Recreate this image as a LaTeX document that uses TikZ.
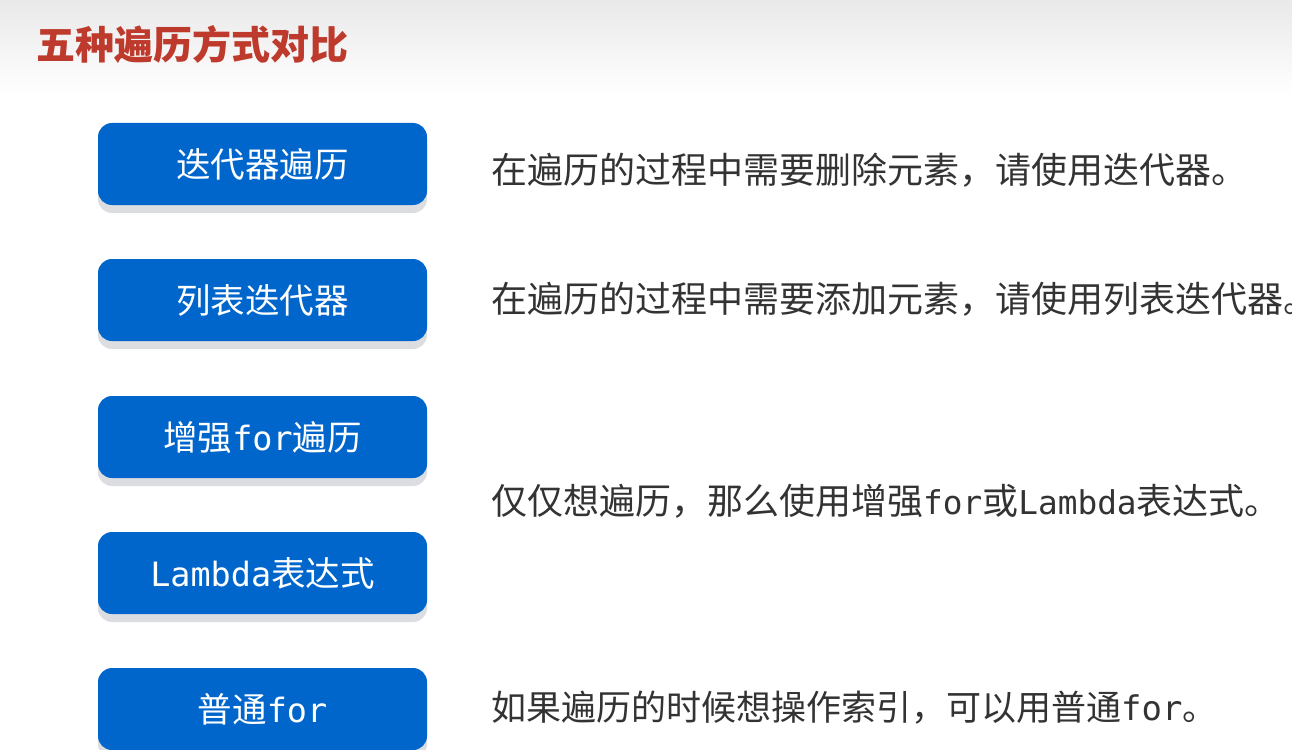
\documentclass[tikz,border=0pt]{standalone}
\usepackage{fontspec}
\setmainfont{Noto Sans CJK SC}
\newfontfamily\cjkfont{Noto Sans CJK SC}
\newfontfamily\monofnt[Scale=0.91]{DejaVu Sans Mono}
\newfontfamily\monobtn[Scale=0.97]{DejaVu Sans Mono}
\newcommand\mn[1]{{\monofnt #1}}
\newcommand\mb[1]{{\monobtn #1}}
\usetikzlibrary{shadows}
\definecolor{boxblue}{HTML}{0066CC}
\definecolor{shadowgray}{HTML}{DCDDE1}
\definecolor{titlered}{HTML}{BE3A2C}
\definecolor{textgray}{HTML}{333333}
\definecolor{topgray}{HTML}{E9E9E9}
\begin{document}
\begin{tikzpicture}[x=1pt,y=-1pt,
  btn/.style={fill=boxblue, rounded corners=14pt, minimum width=329pt, minimum height=82pt,
    inner sep=0pt, text=white, font=\cjkfont\fontsize{34.5}{34.5}\selectfont,
    drop shadow={shadow xshift=0pt, shadow yshift=-8pt, fill=shadowgray, opacity=1}},
  desc/.style={anchor=west, inner sep=0pt, text=textgray, font=\cjkfont\fontsize{36}{36}\selectfont},
  ttl/.style={anchor=west, inner sep=0pt, text=titlered, font=\cjkfont\bfseries\fontsize{39}{39}\selectfont}]
\useasboundingbox (0,0) rectangle (1292,749);
\clip (0,0) rectangle (1292,749);
\fill[white] (0,0) rectangle (1292,749);
\shade[top color=topgray, bottom color=white] (0,0) rectangle (1292,95);
\node[ttl] (title) at (36,45) {五种遍历方式对比};
\node[btn] (b1) at (262.5,164) {迭代器遍历};
\node[btn] (b2) at (262.5,300) {列表迭代器};
\node[btn] (b3) at (262.5,437) {增强\mb{for}遍历};
\node[btn] (b4) at (262.5,573) {\mb{Lambda}表达式};
\node[btn] (b5) at (262.5,709) {普通\mb{for}};
\node[desc] (d1) at (491,170) {在遍历的过程中需要删除元素，请使用迭代器。};
\node[desc] (d2) at (491,299) {在遍历的过程中需要添加元素，请使用列表迭代器。};
\node[desc] (d3) at (491,501) {仅仅想遍历，那么使用增强\mn{for}或\mn{Lambda}表达式。};
\node[desc, font=\cjkfont\fontsize{35}{35}\selectfont] (d4) at (491,708) {如果遍历的时候想操作索引，可以用普通\mb{for}。};
\end{tikzpicture}
\end{document}
